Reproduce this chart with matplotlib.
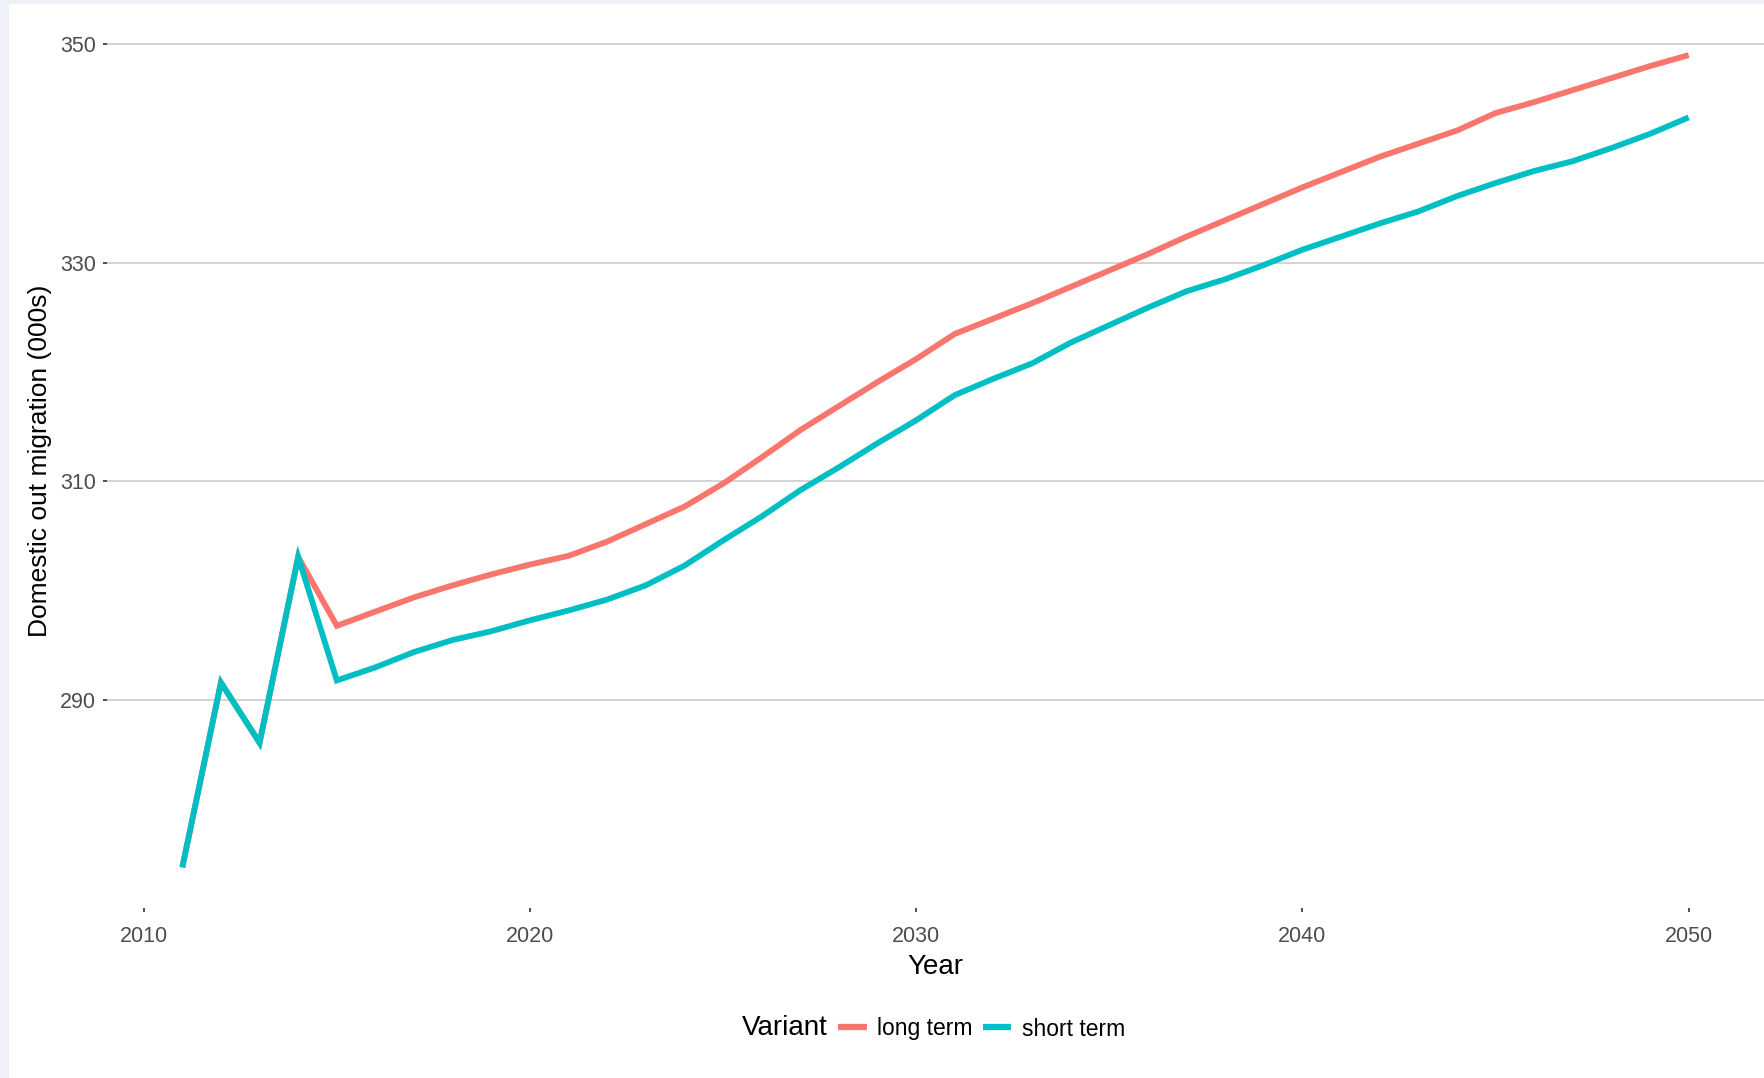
import matplotlib
matplotlib.use("Agg")
import matplotlib.pyplot as plt
from matplotlib.patches import Rectangle

plt.rcParams['font.family'] = ['Liberation Sans', 'DejaVu Sans']

years = list(range(2011, 2051))
short_term = [274.7, 291.6, 286.1, 303.1, 291.8, 293.0, 294.4, 295.5, 296.3, 297.3,
              298.2, 299.2, 300.5, 302.3, 304.6, 306.8, 309.2, 311.3, 313.5, 315.6,
              317.9, 319.4, 320.8, 322.7, 324.3, 325.9, 327.4, 328.5, 329.8, 331.2,
              332.4, 333.6, 334.7, 336.1, 337.3, 338.4, 339.3, 340.5, 341.8, 343.3]
long_term = [274.7, 291.6, 286.1, 303.1, 296.8, 298.1, 299.4, 300.5, 301.5, 302.4,
             303.2, 304.5, 306.1, 307.7, 309.8, 312.2, 314.7, 316.9, 319.1, 321.2,
             323.5, 324.9, 326.3, 327.8, 329.3, 330.8, 332.4, 333.9, 335.4, 336.9,
             338.3, 339.7, 340.9, 342.1, 343.7, 344.7, 345.8, 346.9, 348.0, 349.0]
series_names = ["long term", "short term"]
series_colors = ["#F8766D", "#00BFC4"]
x_ticks = [2010, 2020, 2030, 2040, 2050]
y_ticks = [290, 310, 330, 350]

W, H = 1764, 1078
fig = plt.figure(figsize=(W / 100, H / 100), dpi=100, facecolor="white")

# screenshot frame strips
fig.patches.append(Rectangle((0, 1 - 4 / H), 1, 4 / H, transform=fig.transFigure,
                             facecolor="#eef1f8", edgecolor="none", zorder=0))
fig.patches.append(Rectangle((0, 0), 9 / W, 1, transform=fig.transFigure,
                             facecolor="#eef1f8", edgecolor="none", zorder=0))

ax = fig.add_axes([107 / W, 170 / H, (W - 107) / W, (1063.5 - 170) / H])
ax.set_facecolor("white")

for vals, name, col in zip([long_term, short_term], series_names, series_colors):
    ax.plot(years, vals, color=col, lw=4.2, label=name, solid_joinstyle="miter",
            solid_capstyle="butt")

xmin, xmax = min(years), max(years)
ymin = min(min(short_term), min(long_term))
ymax = max(max(short_term), max(long_term))
ax.set_xlim(xmin - 0.05 * (xmax - xmin), xmax + 0.05 * (xmax - xmin))
ax.set_ylim(ymin - 0.05 * (ymax - ymin), ymax + 0.05 * (ymax - ymin))

ax.set_xticks(x_ticks)
ax.set_yticks(y_ticks)
ax.grid(axis="y", color="#d4d4d4", lw=1.4)
ax.grid(axis="x", visible=False)
ax.set_axisbelow(True)
for s in ax.spines.values():
    s.set_visible(False)
ax.tick_params(axis="both", length=3, width=1.2, color="#333333",
               labelcolor="#4d4d4d", labelsize=15.5)
ax.tick_params(axis="x", pad=10)
ax.tick_params(axis="y", pad=5)

ax.set_xlabel("Year", fontsize=20, color="black", labelpad=5)
ax.set_ylabel("Domestic out migration (000s)", fontsize=19, color="black", labelpad=6)

fig.text(785 / W, 1 - 1028 / H, "Variant", fontsize=20, ha="center", va="center",
         color="black")
leg = ax.legend(loc="center left", bbox_to_anchor=(838 / W, 1 - 1029 / H),
                bbox_transform=fig.transFigure, ncol=2, frameon=False, fontsize=16.5,
                handlelength=1.25, handletextpad=0.45, columnspacing=0.45,
                borderpad=0, borderaxespad=0)
for line in leg.get_lines():
    line.set_linewidth(4.5)

fig.savefig("out.png", dpi=100, facecolor="white")
